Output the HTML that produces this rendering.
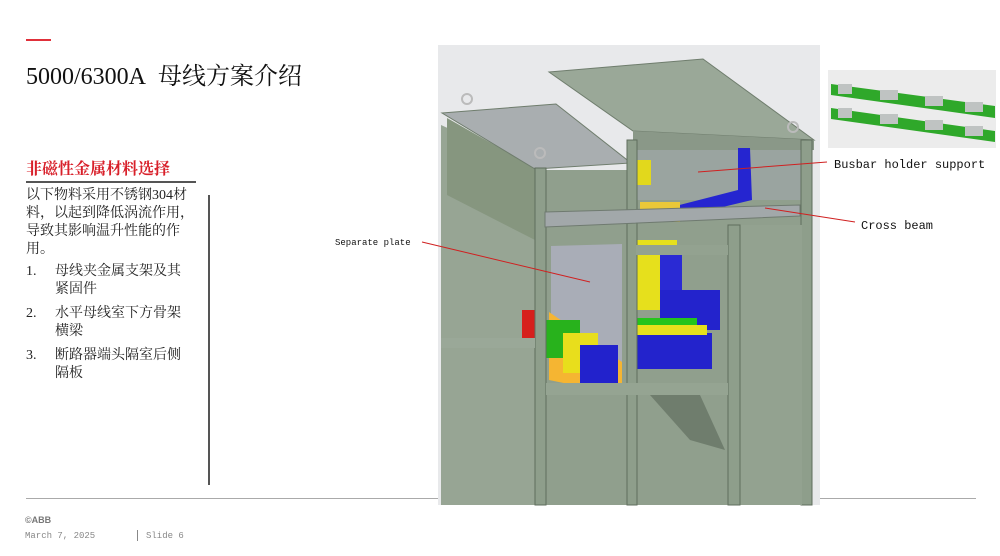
<!DOCTYPE html>
<html><head><meta charset="utf-8"><style>
html,body{margin:0;padding:0;background:#fff;}
body{width:1000px;height:556px;position:relative;overflow:hidden;font-family:"Liberation Serif","Noto Serif CJK SC",serif;}
.a{position:absolute;white-space:nowrap;}
.t{font-family:"Liberation Serif","Noto Serif CJK SC",serif;font-size:14px;color:#222;line-height:18px;}
</style></head><body>
<div class="a" style="left:26px;top:39px;width:25px;height:2px;background:#e0303a"></div>
<div class="a" style="left:26px;top:56px;font-size:24px;color:#111;">5000/6300A&nbsp; 母线方案介绍</div>
<div class="a" style="left:26px;top:156px;font-size:16px;color:#d8202a;font-weight:bold;">非磁性金属材料选择</div>
<div class="a" style="left:26px;top:181px;width:170px;height:2px;background:#555"></div>
<div class="a t" style="left:26px;top:187px;">以下物料采用不锈钢304材<br>料，以起到降低涡流作用，<br>导致其影响温升性能的作<br>用。</div>
<div class="a t" style="left:26px;top:263px;">1.</div><div class="a t" style="left:55px;top:263px;">母线夹金属支架及其<br>紧固件</div>
<div class="a t" style="left:26px;top:305px;">2.</div><div class="a t" style="left:55px;top:305px;">水平母线室下方骨架<br>横梁</div>
<div class="a t" style="left:26px;top:347px;">3.</div><div class="a t" style="left:55px;top:347px;">断路器端头隔室后侧<br>隔板</div>
<div class="a" style="left:208px;top:195px;width:2px;height:290px;background:#555"></div>
<div class="a" style="left:26px;top:498px;width:950px;height:1px;background:#aaa"></div>
<div class="a" style="left:25px;top:515px;font-family:'Liberation Sans',sans-serif;font-size:9px;font-weight:bold;color:#777;">©ABB</div>
<div class="a" style="left:25px;top:531px;font-family:'Liberation Mono',monospace;font-size:9px;color:#888;">March 7, 2025</div>
<div class="a" style="left:137px;top:530px;width:1px;height:11px;background:#888"></div>
<div class="a" style="left:146px;top:531px;font-family:'Liberation Mono',monospace;font-size:9px;color:#888;">Slide 6</div>

<svg class="a" style="left:0;top:0" width="1000" height="556">
<rect x="438" y="45" width="382" height="460" fill="#e8e9eb"/>
<polygon points="441,125 535,168 535,505 441,505" fill="#97a594"/>
<polygon points="447,118 535,168 535,240 447,195" fill="#86967f"/>
<polygon points="549,72 703,59 814,140 633,131" fill="#9aa898" stroke="#6f7d6d"/>
<polygon points="633,131 814,140 814,150 633,155" fill="#8a9888"/>
<polygon points="442,113 556,104 631,163 535,169" fill="#a9aeb0" stroke="#6f7d6d"/>
<rect x="545" y="170" width="258" height="335" fill="#909f8d"/>
<rect x="636" y="150" width="166" height="50" fill="#9aa4a0"/>
<polygon points="551,246 622,244 622,362 551,330" fill="#a9adb7"/>
<polygon points="549,312 622,362 622,395 549,380" fill="#f5b532"/>
<rect x="522" y="310" width="24" height="30" fill="#d6201c"/>
<rect x="545" y="320" width="35" height="38" fill="#28b21c"/>
<rect x="563" y="333" width="35" height="40" fill="#e8de1c"/>
<rect x="580" y="345" width="38" height="38" fill="#2222cc"/>
<rect x="637" y="240" width="40" height="70" fill="#e6e01c"/>
<rect x="660" y="250" width="22" height="60" fill="#2a2ad4"/>
<rect x="660" y="290" width="60" height="40" fill="#2323cc"/>
<rect x="637" y="318" width="60" height="14" fill="#24c41c"/>
<rect x="637" y="333" width="75" height="36" fill="#2323cc"/>
<rect x="637" y="325" width="70" height="10" fill="#e6e01c"/>
<polygon points="738,148 750,148 752,200 660,222 660,210 738,190" fill="#2525d0"/>
<rect x="637" y="160" width="14" height="25" fill="#e2d81c"/>
<rect x="640" y="202" width="40" height="20" fill="#e9c838"/>
<rect x="535" y="168" width="11" height="337" fill="#8e9e8b" stroke="#5f6d5d"/>
<rect x="627" y="140" width="10" height="365" fill="#8e9e8b" stroke="#5f6d5d"/>
<rect x="801" y="140" width="11" height="365" fill="#8e9e8b" stroke="#5f6d5d"/>
<rect x="740" y="225" width="62" height="280" fill="#93a290"/>
<rect x="728" y="225" width="12" height="280" fill="#8e9e8b" stroke="#5f6d5d"/>
<polygon points="545,212 800,205 800,216 545,227" fill="#a2a8aa" stroke="#6f7a70"/>
<rect x="636" y="245" width="92" height="10" fill="#93a290"/>
<rect x="546" y="383" width="182" height="12" fill="#95a492"/>
<rect x="441" y="338" width="94" height="10" fill="#9aa898"/>
<polygon points="650,395 700,395 725,450 690,440" fill="#6f7d6d"/>
<circle cx="467" cy="99" r="5" fill="none" stroke="#bbb" stroke-width="2"/>
<circle cx="540" cy="153" r="5" fill="none" stroke="#bbb" stroke-width="2"/>
<circle cx="793" cy="127" r="5" fill="none" stroke="#bbb" stroke-width="2"/>
<rect x="828" y="70" width="168" height="78" fill="#ececec"/>
<polygon points="831,84 995,106 995,118 831,95" fill="#2fa82a"/>
<polygon points="831,108 995,131 995,142 831,119" fill="#2fa82a"/>
<rect x="838" y="84" width="14" height="10" fill="#bfc3c2"/><rect x="880" y="90" width="18" height="10" fill="#bfc3c2"/><rect x="925" y="96" width="18" height="10" fill="#bfc3c2"/><rect x="965" y="102" width="18" height="10" fill="#bfc3c2"/>
<rect x="838" y="108" width="14" height="10" fill="#bfc3c2"/><rect x="880" y="114" width="18" height="10" fill="#bfc3c2"/><rect x="925" y="120" width="18" height="10" fill="#bfc3c2"/><rect x="965" y="126" width="18" height="10" fill="#bfc3c2"/>
<line x1="827" y1="162" x2="698" y2="172" stroke="#d02020" stroke-width="1"/>
<line x1="855" y1="222" x2="765" y2="208" stroke="#d02020" stroke-width="1"/>
<line x1="422" y1="242" x2="590" y2="282" stroke="#d02020" stroke-width="1"/>
<text x="834" y="168" font-family="Liberation Mono,monospace" font-size="12" fill="#111">Busbar holder support</text>
<text x="861" y="229" font-family="Liberation Mono,monospace" font-size="12" fill="#111">Cross beam</text>
<text x="335" y="245" font-family="Liberation Mono,monospace" font-size="9" fill="#111">Separate plate</text>
</svg>
</body></html>
